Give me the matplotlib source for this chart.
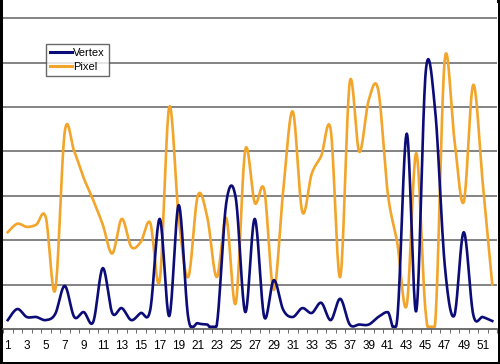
import numpy as np
import matplotlib
matplotlib.use('Agg')
import matplotlib.pyplot as plt

# categories 1..52, labels on every other one
categories = list(range(1, 53))
tickLabels = [str(c) for c in categories if c % 2 == 1]

vertex = [0.2, 0.45, 0.27, 0.27, 0.2, 0.34, 0.97, 0.27, 0.38, 0.16,
          1.37, 0.36, 0.47, 0.2, 0.36, 0.43, 2.48, 0.29, 2.79, 0.25,
          0.13, 0.1, 0.08, 2.84, 2.95, 0.38, 2.48, 0.27, 1.1, 0.43,
          0.27, 0.47, 0.36, 0.59, 0.2, 0.68, 0.1, 0.1, 0.1, 0.27,
          0.38, 0.23, 4.4, 0.4, 5.8, 4.9, 1.44, 0.3, 2.18, 0.32,
          0.27, 0.18]

pixel = [2.18, 2.37, 2.3, 2.35, 2.52, 0.88, 4.44, 4.0, 3.4, 2.9,
         2.35, 1.7, 2.48, 1.85, 1.96, 2.39, 1.1, 5.0, 2.5, 1.17,
         3.0, 2.52, 1.17, 2.5, 0.58, 4.03, 2.84, 3.13, 0.88, 3.13,
         4.9, 2.64, 3.5, 3.9, 4.48, 1.17, 5.56, 3.99, 5.16, 5.38,
         3.06, 1.94, 0.54, 3.96, 0.35, 0.15, 6.06, 4.3, 2.86, 5.5,
         3.28, 1.0]


def smoothLine(x, y, n=20, floor=0.05):
    '''Excel style smoothed line (bezier through the points)'''
    x = np.asarray(x, float)
    y = np.asarray(y, float)
    px = np.concatenate([[x[0]], x, [x[-1]]])
    py = np.concatenate([[y[0]], y, [y[-1]]])
    xs, ys = [], []
    t = np.linspace(0, 1, n, endpoint=False)
    for i in range(1, len(px) - 2):
        p0 = np.array([px[i], py[i]])
        p3 = np.array([px[i + 1], py[i + 1]])
        c1 = p0 + (p3 - np.array([px[i - 1], py[i - 1]])) / 6.0
        c2 = p3 - (np.array([px[i + 2], py[i + 2]]) - p0) / 6.0
        b = ((1 - t) ** 3)[:, None] * p0 + (3 * (1 - t) ** 2 * t)[:, None] * c1 \
            + (3 * (1 - t) * t ** 2)[:, None] * c2 + (t ** 3)[:, None] * p3
        xs.extend(b[:, 0])
        ys.extend(b[:, 1])
    xs.append(x[-1])
    ys.append(y[-1])
    # keep the overshoot from dropping under the axis
    ys = np.maximum(ys, floor)
    return xs, ys


plt.rcParams['font.family'] = ['Liberation Sans', 'DejaVu Sans']

fig = plt.figure(figsize=(5, 3.64), dpi=100, linewidth=2.5, edgecolor='black')
ax = plt.axes([0.006, 0.0962, 0.988, 0.9038])

for v in range(1, 8):
    ax.axhline(v, color='#6e6e6e', lw=1.2, zorder=1)

vx, vy = smoothLine(categories, vertex)
ax.plot(vx, vy, color='#0c0c78', lw=1.9, label='Vertex', zorder=3)
px, py = smoothLine(categories, pixel)
ax.plot(px, py, color='#f2a52a', lw=1.9, label='Pixel', zorder=2)

ax.set_xlim(0.6, 52.5)
ax.set_ylim(0, 7.41)

for s in ['top', 'right', 'left']:
    ax.spines[s].set_visible(False)
ax.spines['bottom'].set_color('#555555')
ax.spines['bottom'].set_linewidth(1.2)

ax.set_yticks([])
ax.set_xticks([c for c in categories if c % 2 == 1])
ax.set_xticklabels(tickLabels, fontsize=8.5)
ax.set_xticks(np.arange(0.5, 53, 1.0), minor=True)
ax.tick_params(axis='x', which='major', length=0, pad=8)
ax.tick_params(axis='x', which='minor', length=3, color='#555555', direction='out')

leg = ax.legend(loc='upper left', bbox_to_anchor=(0.087, 0.866), fontsize=8,
                frameon=True, fancybox=False, handlelength=2.0, handletextpad=0.1,
                borderpad=0.35, labelspacing=0.35, borderaxespad=0)
leg.get_frame().set_edgecolor('#444444')
leg.get_frame().set_linewidth(1.0)
for line in leg.get_lines():
    line.set_linewidth(2.2)

plt.savefig('out.png', dpi=100)
